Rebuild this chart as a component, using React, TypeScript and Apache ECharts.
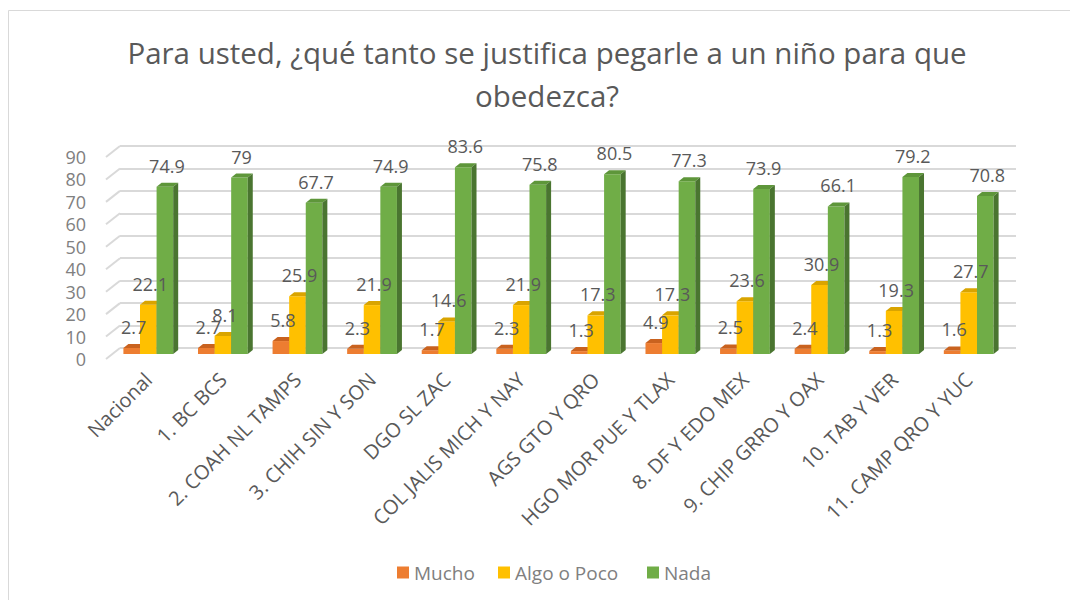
import React, { useEffect, useRef } from "react";
import * as echarts from "echarts";

const categories = [
  "Nacional",
  "1. BC BCS",
  "2. COAH NL TAMPS",
  "3. CHIH SIN Y SON",
  "DGO SL ZAC",
  "COL JALIS MICH Y NAY",
  "AGS GTO Y QRO",
  "HGO MOR PUE Y TLAX",
  "8. DF Y EDO MEX",
  "9. CHIP GRRO Y OAX",
  "10. TAB Y VER",
  "11. CAMP QRO Y YUC",
];
const mucho = [2.7, 2.7, 5.8, 2.3, 1.7, 2.3, 1.3, 4.9, 2.5, 2.4, 1.3, 1.6];
const algoPoco = [22.1, 8.1, 25.9, 21.9, 14.6, 21.9, 17.3, 17.3, 23.6, 30.9, 19.3, 27.7];
const nada = [74.9, 79, 67.7, 74.9, 83.6, 75.8, 80.5, 77.3, 73.9, 66.1, 79.2, 70.8];
const yTicks = [0, 10, 20, 30, 40, 50, 60, 70, 80, 90];
const seriesNames = ["Mucho", "Algo o Poco", "Nada"];
const titleLines = ["Para usted, ¿qué tanto se justifica pegarle a un niño para que", "obedezca?"];

const FONT = "'Open Sans', Lato, sans-serif";

const palettes = [
  { front: "#ED7D31", top: "#C9621F", side: "#A9531A" },
  { front: "#FFC000", top: "#D9A400", side: "#B88C00" },
  { front: "#70AD47", top: "#5E963A", side: "#4A7530" },
];

function makeBarRender(idx: number) {
  const c = palettes[idx];
  return (params: any, api: any) => {
    const ci = api.value(0);
    const v = api.value(1);
    const top = api.coord([ci, v]);
    const base = api.coord([ci, 0]);
    const band = api.size([1, 0])[0];
    const w = band * 0.2225;
    const x0 = top[0] + (idx - 1.5) * w;
    const x1 = x0 + w;
    const dx = 5;
    const dy = 4;
    const yt = top[1];
    const yb = base[1];
    return {
      type: "group",
      children: [
        { type: "rect", shape: { x: x0, y: yt, width: w, height: yb - yt }, style: { fill: c.front } },
        {
          type: "polygon",
          shape: { points: [[x0, yt], [x0 + dx, yt - dy], [x1 + dx, yt - dy], [x1, yt]] },
          style: { fill: c.top },
        },
        {
          type: "polygon",
          shape: { points: [[x1, yt], [x1 + dx, yt - dy], [x1 + dx, yb - dy], [x1, yb]] },
          style: { fill: c.side },
        },
        {
          type: "text",
          z2: 100,
          x: (x0 + x1) / 2 + 2,
          y: yt - 21,
          style: {
            text: String(v),
            align: "center",
            verticalAlign: "middle",
            fill: "#595959",
            font: `18px ${FONT}`,
          },
        },
      ],
    };
  };
}

export default function App() {
  const ref = useRef<HTMLDivElement>(null);
  useEffect(() => {
    if (!ref.current) return;
    const chart = echarts.init(ref.current, undefined, { renderer: "svg" });
    const seriesData = [mucho, algoPoco, nada];
    const legendLefts = [397, 498, 647];
    const option: any = {
      animation: false,
      backgroundColor: "#ffffff",
      textStyle: { fontFamily: FONT },
      graphic: [
        {
          type: "rect",
          shape: { x: 8.5, y: 10.5, width: 1100, height: 620 },
          style: { fill: "none", stroke: "#d9d9d9", lineWidth: 1 },
          silent: true,
        },
        {
          type: "text",
          x: 547,
          y: 52,
          style: {
            text: titleLines[0],
            align: "center",
            verticalAlign: "middle",
            fill: "#595959",
            font: `29.5px ${FONT}`,
          },
        },
        {
          type: "text",
          x: 547,
          y: 95,
          style: {
            text: titleLines[1],
            align: "center",
            verticalAlign: "middle",
            fill: "#595959",
            font: `29.5px ${FONT}`,
          },
        },
      ],
      legend: seriesNames.map((n, i) => ({
        data: [{ name: n, icon: "rect" }],
        left: legendLefts[i],
        top: 563,
        padding: 0,
        itemWidth: 12,
        itemHeight: 12,
        textStyle: { color: "#808080", fontSize: 19, fontFamily: FONT },
      })),
      grid: [
        { left: 120, right: 54, top: 146, bottom: 252 },
        { left: 111, right: 64, top: 153, bottom: 246 },
        { left: 106, right: 64, top: 157, bottom: 241 },
      ],
      xAxis: [
        { gridIndex: 0, type: "value", min: 0, max: 1, show: false },
        {
          gridIndex: 1,
          type: "category",
          data: categories,
          axisLine: { show: false },
          axisTick: { show: false },
          axisLabel: {
            interval: 0,
            rotate: 45,
            margin: 22,
            color: "#595959",
            fontSize: 20,
            fontFamily: FONT,
          },
        },
        { gridIndex: 2, type: "value", min: 0, max: 1, show: false },
      ],
      yAxis: [
        {
          gridIndex: 0,
          type: "value",
          min: 0,
          max: 90,
          interval: 10,
          axisLabel: { show: false },
          axisLine: { show: false },
          axisTick: { show: false },
          splitLine: { show: true, lineStyle: { color: "#d9d9d9", width: 2 } },
        },
        {
          gridIndex: 1,
          type: "value",
          min: 0,
          max: 90,
          interval: 10,
          show: false,
          splitLine: { show: false },
        },
        {
          gridIndex: 2,
          type: "value",
          min: 0,
          max: 90,
          interval: 10,
          axisLine: { show: false },
          axisTick: { show: false },
          splitLine: { show: false },
          axisLabel: { margin: 20, color: "#808080", fontSize: 18, fontFamily: FONT },
        },
      ],
      series: [
        {
          type: "custom",
          name: "_diag",
          xAxisIndex: 0,
          yAxisIndex: 0,
          silent: true,
          data: yTicks.map((t) => [0, t]),
          encode: { x: 0, y: 1 },
          renderItem: (params: any, api: any) => {
            const p = api.coord([0, api.value(1)]);
            return {
              type: "line",
              shape: { x1: p[0] - 14, y1: p[1] + 11, x2: p[0], y2: p[1] },
              style: { stroke: "#d9d9d9", lineWidth: 2 },
            };
          },
        },
        ...seriesNames.map((name, i) => ({
          type: "custom",
          name,
          xAxisIndex: 1,
          yAxisIndex: 1,
          z: 3,
          itemStyle: { color: palettes[i].front },
          data: seriesData[i].map((v, ci) => [ci, v]),
          encode: { x: 0, y: 1 },
          renderItem: makeBarRender(i),
        })),
      ],
    };
    chart.setOption(option);
    return () => chart.dispose();
  }, []);
  return (
    <div
      ref={ref}
      style={{ position: "absolute", left: 0, top: 0, width: 1070, height: 600 }}
    />
  );
}
